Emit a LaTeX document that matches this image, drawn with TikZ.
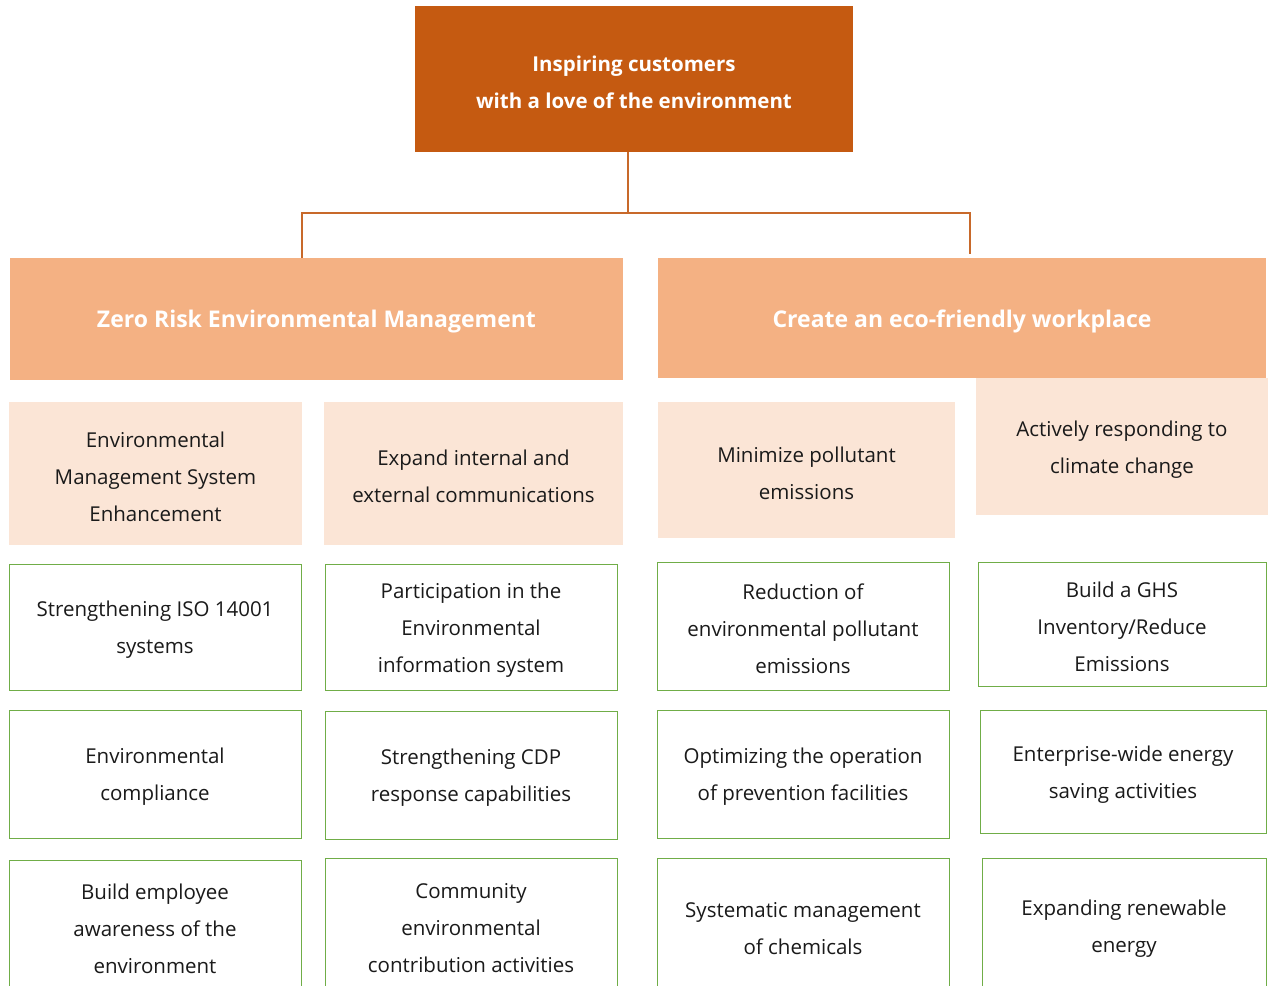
\documentclass[tikz,border=0pt]{standalone}
\usepackage{fontspec}
\setmainfont{Open Sans}
\definecolor{topc}{HTML}{C55A11}
\definecolor{midc}{HTML}{F4B183}
\definecolor{lowc}{HTML}{FBE5D6}
\definecolor{grn}{HTML}{70AD47}
\definecolor{linec}{HTML}{C8692A}
\definecolor{txt}{HTML}{1A1A1A}
\tikzset{
  topbox/.style={fill=topc},
  toptext/.style={text=white, font=\bfseries\fontsize{20.5}{37}\selectfont, align=center, inner sep=0pt},
  midbox/.style={fill=midc},
  midtext/.style={text=white, font=\bfseries\fontsize{23}{37}\selectfont, align=center, inner sep=0pt},
  lowbox/.style={fill=lowc},
  lowtext/.style={text=txt, font=\fontsize{20.5}{37}\selectfont, align=center, inner sep=0pt},
  itembox/.style={draw=grn, line width=1pt, fill=white},
  itemtext/.style={text=txt, font=\fontsize{20.5}{37}\selectfont, align=center, inner sep=0pt},
  conn/.style={draw=linec, line width=1.3pt}
}
% #1 name, #2-#5 corners, #6 box style, #7 text style, #8 text
\newcommand\bx[8]{%
  \node[#6, inner sep=0pt, minimum width={(#4-#2)*1pt}, minimum height={(#5-#3)*1pt}] (#1) at ({(#2+#4)/2},{(#3+#5)/2}) {};
  \node[#7] (#1t) at ([yshift=-3pt]#1.center) {#8};}
\begin{document}
\begin{tikzpicture}[x=1pt,y=-1pt]
\useasboundingbox (0,0) rectangle (1268,985);
\clip (0,0) rectangle (1268,985);
\fill[white] (0,0) rectangle (1268,985);
\bx{top}{415}{6}{853}{152}{topbox}{toptext}{Inspiring customers\\with a love of the environment}
\bx{za}{10}{258}{623}{380}{midbox}{midtext}{Zero Risk Environmental Management}
\bx{zb}{658}{258}{1266}{378}{midbox}{midtext}{Create an eco-friendly workplace}
\bx{la}{9}{402}{302}{545}{lowbox}{lowtext}{Environmental\\Management System\\Enhancement}
\bx{lb}{324}{402}{623}{545}{lowbox}{lowtext}{Expand internal and\\external communications}
\bx{lc}{658}{402}{955}{538}{lowbox}{lowtext}{Minimize pollutant\\emissions}
\bx{ld}{976}{378}{1268}{515}{lowbox}{lowtext}{Actively responding to\\climate change}
\bx{a1}{9}{564}{301}{690}{itembox}{itemtext}{Strengthening ISO 14001\\systems}
\bx{b1}{325}{564}{617}{690}{itembox}{itemtext}{Participation in the\\Environmental\\information system}
\bx{c1}{657}{562}{949}{690}{itembox}{itemtext}{Reduction of\\environmental pollutant\\emissions}
\bx{d1}{978}{562}{1266}{686}{itembox}{itemtext}{Build a GHS\\Inventory/Reduce\\Emissions}
\bx{a2}{9}{710}{301}{838}{itembox}{itemtext}{Environmental\\compliance}
\bx{b2}{325}{711}{617}{839}{itembox}{itemtext}{Strengthening CDP\\response capabilities}
\bx{c2}{657}{710}{949}{838}{itembox}{itemtext}{Optimizing the operation\\of prevention facilities}
\bx{d2}{980}{710}{1266}{833}{itembox}{itemtext}{Enterprise-wide energy\\saving activities}
\bx{a3}{9}{860}{301}{992}{itembox}{itemtext}{Build employee\\awareness of the\\environment}
\bx{b3}{325}{858}{617}{992}{itembox}{itemtext}{Community\\environmental\\contribution activities}
\bx{c3}{657}{858}{949}{994}{itembox}{itemtext}{Systematic management\\of chemicals}
\bx{d3}{982}{858}{1266}{994}{itembox}{itemtext}{Expanding renewable\\energy}
\coordinate (j) at (628,213);
\coordinate (jl) at (302,258);
\coordinate (jr) at (970,254);
\draw[conn] (top.south -| j) -- (j) -| (jl);
\draw[conn] (j) -| (jr);
\end{tikzpicture}
\end{document}
